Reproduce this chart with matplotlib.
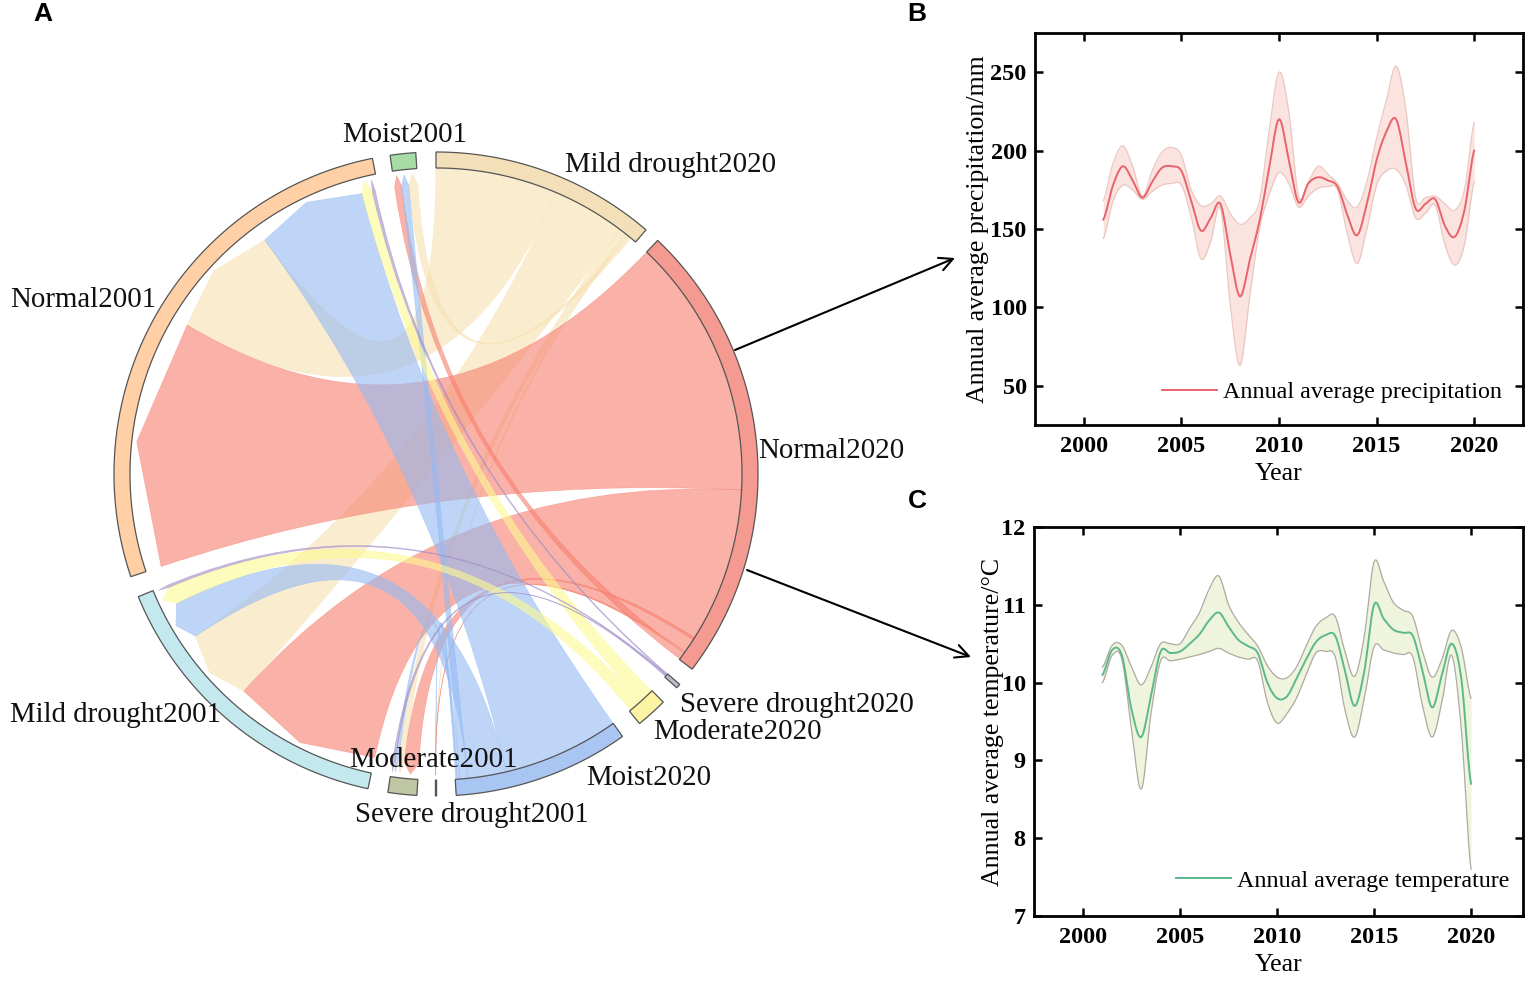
import numpy as np
import matplotlib
matplotlib.use('Agg')
import matplotlib.pyplot as plt
from matplotlib.path import Path
from matplotlib.patches import PathPatch

SERIF = 'Liberation Serif'
W, H = 1535, 981
CX, CY = 436, 474
R_OUT, R_IN, R_TIP, R_BASE = 322, 306, 301, 290

years = np.arange(2001, 2020.5, 0.5)
prec_mean = [156, 178, 190, 181, 170, 180, 189, 190, 187, 168, 149, 157, 166, 134, 107, 130, 155, 189, 220, 194,
             167, 179, 183, 181, 177, 159, 146, 166, 194, 212, 220, 192, 163, 166, 169, 152, 145, 162, 200]
prec_up = [168, 192, 203, 190, 171, 187, 199, 202, 197, 175, 165, 166, 171, 160, 153, 157, 168, 213, 250, 225,
           171, 180, 190, 185, 179, 168, 164, 180, 208, 232, 254, 226, 170, 170, 171, 166, 162, 175, 218]
prec_low = [144, 168, 178, 175, 169, 174, 178, 179, 178, 158, 131, 142, 163, 102, 63, 107, 150, 172, 186, 179,
            164, 171, 176, 177, 175, 147, 128, 150, 178, 187, 188, 178, 157, 160, 165, 140, 127, 140, 180]
temp_mean = [10.1, 10.42, 10.35, 9.65, 9.3, 9.83, 10.4, 10.38, 10.4, 10.5, 10.62, 10.8, 10.9, 10.72, 10.55, 10.47,
             10.38, 10.0, 9.8, 9.82, 10.05, 10.3, 10.52, 10.61, 10.6, 10.15, 9.7, 10.15, 11.0, 10.82, 10.68, 10.64,
             10.6, 10.15, 9.68, 10.1, 10.5, 10.05, 8.7]
temp_up = [10.2, 10.48, 10.48, 10.2, 9.97, 10.2, 10.5, 10.5, 10.5, 10.7, 10.9, 11.2, 11.37, 11.0, 10.78, 10.62,
           10.47, 10.22, 10.07, 10.06, 10.2, 10.47, 10.72, 10.83, 10.85, 10.4, 10.08, 10.6, 11.55, 11.3, 11.03,
           10.93, 10.85, 10.4, 10.07, 10.3, 10.67, 10.45, 9.8]
temp_low = [10.0, 10.35, 10.3, 9.4, 8.63, 9.6, 10.28, 10.28, 10.3, 10.33, 10.36, 10.4, 10.44, 10.38, 10.33, 10.3,
            10.28, 9.75, 9.48, 9.6, 9.8, 10.1, 10.38, 10.4, 10.33, 9.65, 9.3, 9.8, 10.46, 10.42, 10.38, 10.36,
            10.33, 9.7, 9.3, 9.75, 10.35, 9.4, 7.6]

# chord sectors, angles in degrees, ccw
sector_names = ['Mild drought2020', 'Normal2020', 'Severe drought2020', 'Moderate2020', 'Moist2020',
                'Severe drought2001', 'Moderate2001', 'Mild drought2001', 'Normal2001', 'Moist2001']
sector_start = [49.3, -37.3, -41.6, -50.8, -86.4, -90.1, -98.6, 202.4, 101.4, 93.6]
sector_end = [90.0, 46.5, -40.8, -45.1, -54.6, -89.9, -93.4, 257.8, 198.6, 98.2]
sector_colors = ['#F3E0B8', '#F49A90', '#B9B9CF', '#FBF4A3', '#A9C5F2', '#999999', '#BFC6A4', '#C3E9EE', '#FFD0A6',
                 '#A6DDA6']
label_x = [565, 758, 680, 653, 586, 355, 349, 10, 10, 342]
label_y = [165, 451, 705, 732, 778, 815, 760, 715, 300, 135]

# ribbons: source span (arrow end) and target span, drawn in this order
rib_s0 = [126.2, 214.0, 93.6, 262.5, 269.9, 149.1, 228.5, 263.7, 269.85, 96.8, 104.8, 206.5, 95.4, 261.9, 269.9,
          102.7, 203.0, 102.1, 202.5, 261.4]
rib_s1 = [149.1, 228.5, 95.4, 263.7, 269.98, 198.6, 257.8, 266.6, 269.95, 98.2, 126.2, 214.0, 96.8, 262.5, 269.98,
          104.8, 206.5, 102.7, 203.0, 261.9]
rib_t0 = [67.0, 53.0, 50.4, 51.7, 51.2, -3.0, -35.5, -32.8, -35.8, -37.2, -76.7, -84.0, -85.5, -86.0, -86.3, -48.0,
          -50.5, -41.0, -41.2, -41.4]
rib_t1 = [90.0, 67.0, 51.2, 53.0, 51.7, 46.5, -3.0, -32.3, -35.5, -35.8, -54.6, -76.7, -84.0, -85.5, -86.0, -45.2,
          -48.0, -40.8, -41.0, -41.2]
rib_kind = ['tan', 'tan', 'tan', 'tan', 'tan', 'red', 'red', 'red', 'red', 'red', 'blue', 'blue', 'blue', 'blue',
            'blue', 'yellow', 'yellow', 'purple', 'purple', 'purple']
rib_colors = {'red': '#F77F6E', 'blue': '#94BAF4', 'tan': '#F7E1AF', 'yellow': '#FCFA90', 'purple': '#A08CC8'}


def pt(angle, r):
    a = np.radians(angle)
    return CX + r * np.cos(a), CY - r * np.sin(a)


def arc(a0, a1, r):
    return [pt(a, r) for a in np.linspace(a0, a1, max(int(abs(a1 - a0) * 2), 2) + 1)]


def ribbon(s0, s1, t0, t1):
    verts = [pt(s0, R_BASE), pt((s0 + s1) / 2, R_TIP), pt(s1, R_BASE)]
    codes = [Path.MOVETO, Path.LINETO, Path.LINETO]
    tgt = arc(t0, t1, R_IN)
    verts += [(CX, CY), tgt[0]]
    codes += [Path.CURVE3, Path.CURVE3]
    verts += tgt[1:]
    codes += [Path.LINETO] * (len(tgt) - 1)
    verts += [(CX, CY), pt(s0, R_BASE)]
    codes += [Path.CURVE3, Path.CURVE3]
    return Path(verts, codes)


def smooth(x, y, n=12):
    # catmull-rom through the read values, only so the line looks like the curved original
    x = np.asarray(x, float)
    y = np.asarray(y, float)
    py = np.r_[y[0], y, y[-1]]
    xs, ys = [], []
    for i in range(len(x) - 1):
        t = np.linspace(0, 1, n, endpoint=False)
        p0, p1, p2, p3 = py[i], py[i + 1], py[i + 2], py[i + 3]
        ys.append(0.5 * (2 * p1 + (p2 - p0) * t + (2 * p0 - 5 * p1 + 4 * p2 - p3) * t ** 2
                         + (3 * p1 - p0 - 3 * p2 + p3) * t ** 3))
        xs.append(x[i] + t * (x[i + 1] - x[i]))
    return np.r_[np.concatenate(xs), x[-1]], np.r_[np.concatenate(ys), y[-1]]


def panel(rect, mean, up, low, line_col, fill_col, edge_col, legend_name, ylabel, xlim, ylim, yticks, legend_anchor,
          ypad):
    l, t, r, b = rect
    ax = fig.add_axes([l / W, 1 - b / H, (r - l) / W, (b - t) / H])
    xu, yu = smooth(years, up)
    xl, yl = smooth(years, low)
    xm, ym = smooth(years, mean)
    ax.fill_between(xu, yl, yu, color=fill_col, lw=0)
    ax.plot(xu, yu, color=edge_col, lw=0.9)
    ax.plot(xl, yl, color=edge_col, lw=0.9)
    ax.plot(xm, ym, color=line_col, lw=1.4, label=legend_name)
    ax.set_xlim(*xlim)
    ax.set_ylim(*ylim)
    ax.set_xticks(range(2000, 2021, 5))
    ax.set_yticks(yticks)
    ax.tick_params(direction='in', top=True, right=True, length=6, width=1.8)
    ax.tick_params(axis='x', pad=8)
    ax.tick_params(axis='y', pad=6)
    for lab in ax.get_xticklabels() + ax.get_yticklabels():
        lab.set_fontfamily(SERIF)
        lab.set_fontweight('bold')
        lab.set_fontsize(17.5)
    for sp in ax.spines.values():
        sp.set_linewidth(2)
    ax.set_xlabel('Year', family=SERIF, fontsize=18.6, labelpad=4)
    ax.set_ylabel(ylabel, family=SERIF, fontsize=18.6, labelpad=ypad)
    ax.legend(loc='lower right', bbox_to_anchor=legend_anchor, frameon=False, handlelength=2.3, handletextpad=0.25,
              prop={'family': SERIF, 'size': 17.3}, borderpad=0, borderaxespad=0)
    return ax


fig = plt.figure(figsize=(W / 100, H / 100), dpi=100)
bg = fig.add_axes([0, 0, 1, 1])
bg.set_xlim(0, W)
bg.set_ylim(H, 0)
bg.axis('off')

for s0, s1, t0, t1, kind in zip(rib_s0, rib_s1, rib_t0, rib_t1, rib_kind):
    bg.add_patch(PathPatch(ribbon(s0, s1, t0, t1), fc=rib_colors[kind], ec=rib_colors[kind], lw=0.4, alpha=0.6))

for name, a0, a1, col, lx, ly in zip(sector_names, sector_start, sector_end, sector_colors, label_x, label_y):
    poly = arc(a0, a1, R_OUT) + arc(a1, a0, R_IN)
    bg.add_patch(plt.Polygon(poly, closed=True, fc=col, ec='#555555', lw=0.9))
    bg.text(lx, ly, name, family=SERIF, fontsize=20.8, va='center', ha='left', color='#111111')

for start, end in [((735, 350), (955, 258)), ((747, 570), (971, 657))]:
    bg.annotate('', xy=end, xytext=start, arrowprops=dict(arrowstyle='->', color='black', lw=1.5, mutation_scale=24,
                                                          shrinkA=0, shrinkB=0))

for letter, lx, ly in [('A', 43, 14), ('B', 917, 14), ('C', 917, 501)]:
    bg.text(lx, ly, letter, family='Liberation Sans', fontweight='bold', fontsize=19, ha='center', va='center')

panel((1035, 33, 1523, 425), prec_mean, prec_up, prec_low, '#E8636B', '#FBE3DF', '#EBC7C2',
      'Annual average precipitation', 'Annual average precipitation/mm', (1997.5, 2022.5), (25, 275),
      [50, 100, 150, 200, 250], (0.957, 0.055), 1)
panel((1034, 527, 1523, 916), temp_mean, temp_up, temp_low, '#5DB88E', '#EEF5DC', '#AFA9A0',
      'Annual average temperature', 'Annual average temperature/°C', (1997.47, 2022.68), (7, 12),
      [7, 8, 9, 10, 11, 12], (0.972, 0.062), -2)

fig.savefig('out.png', dpi=100)
